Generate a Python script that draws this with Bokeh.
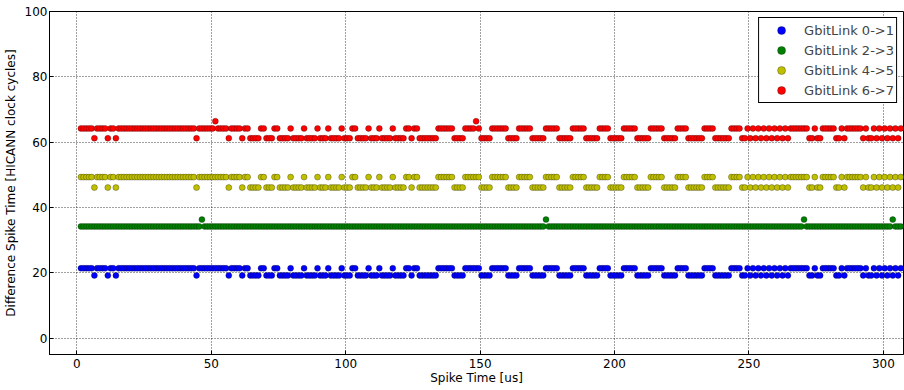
from bokeh.plotting import figure
from bokeh.models import Legend, LegendItem, ColumnDataSource
from bokeh.embed import file_html
from bokeh.resources import INLINE

# ---- data ----
# spike times [us] at which links 0->1, 4->5, 6->7 show the "upper" delay
UP_X = [1.5, 2.5, 3.5, 4.5, 5.5, 7.5, 8.5, 9.5, 10.5, 12.5, 13.5,
        15.5, 16.5, 17.5, 18.5, 19.5, 20.5, 21.5, 22.5, 23.5, 24.5, 25.5, 26.5,
        27.5, 28.5, 29.5, 30.5, 31.5, 32.5, 33.5, 34.5, 35.5, 36.5, 37.5, 38.5,
        39.5, 40.5, 41.5, 42.5, 43.5,
        45.5, 46.5, 47.5, 48.5, 49.5, 50.5, 51.5, 52.5, 53.5, 54.5, 55.5,
        57.5, 58.5, 59.5, 60.5, 62.5, 63.5, 68.5, 69.5, 73.5, 74.5, 79.5,
        84.5, 89.5, 93.5, 98.5, 102.5, 103.5, 108.5, 112.5, 117.5,
        122.5, 123.5, 125.5, 126.5,
        134.5, 135.5, 136.5, 137.5, 138.5, 139.5,
        144.5, 145.5, 146.5, 147.5, 148.5, 149.5,
        154.5, 155.5, 156.5, 157.5, 158.5, 159.5,
        164.5, 165.5, 166.5, 167.5, 168.5,
        174.5, 175.5, 176.5, 177.5, 178.5,
        184.5, 185.5, 186.5, 187.5, 188.5,
        194.5, 195.5, 196.5, 197.5,
        203.5, 204.5, 205.5, 206.5, 207.5,
        213.5, 214.5, 215.5, 216.5, 217.5,
        223.5, 224.5, 225.5, 226.5,
        233.5, 234.5, 235.5, 236.5,
        243.5, 244.5, 245.5, 246.5,
        249.5, 251.5, 253.5, 255.5, 257.5, 259.5, 261.5, 263.5, 265.5,
        266.5, 267.5, 268.5, 269.5, 270.5, 271.5, 274.5,
        277.5, 278.5, 279.5, 280.5, 281.5, 284.5,
        286.5, 287.5, 288.5, 289.5, 290.5, 291.5, 293.5, 296.5,
        298.5, 300.5, 302.5, 304.5, 306.5]
# spike times [us] with the "lower" delay
LO_X = [6.5, 11.5, 14.5, 44.5, 56.5, 61.5,
        64.5, 65.5, 66.5, 67.5, 70.5, 71.5, 72.5, 75.5, 76.5, 77.5, 78.5,
        80.5, 81.5, 82.5, 83.5, 85.5, 86.5, 87.5, 88.5, 90.5, 91.5, 92.5,
        94.5, 95.5, 96.5, 97.5, 99.5, 100.5, 101.5, 104.5, 105.5, 106.5, 107.5,
        109.5, 110.5, 111.5, 113.5, 114.5, 115.5, 116.5, 118.5, 119.5, 120.5, 121.5,
        124.5, 127.5, 128.5, 129.5, 130.5, 131.5, 132.5, 133.5,
        140.5, 141.5, 142.5, 143.5, 150.5, 151.5, 152.5, 153.5,
        160.5, 161.5, 162.5, 163.5, 169.5, 170.5, 171.5, 172.5, 173.5,
        179.5, 180.5, 181.5, 182.5, 183.5, 189.5, 190.5, 191.5, 192.5, 193.5,
        198.5, 199.5, 200.5, 201.5, 202.5, 208.5, 209.5, 210.5, 211.5, 212.5,
        218.5, 219.5, 220.5, 221.5, 222.5, 227.5, 228.5, 229.5, 230.5, 231.5, 232.5,
        237.5, 238.5, 239.5, 240.5, 241.5, 242.5, 247.5, 248.5,
        250.5, 252.5, 254.5, 256.5, 258.5, 260.5, 262.5, 264.5,
        272.5, 273.5, 275.5, 276.5, 282.5, 283.5, 285.5,
        292.5, 294.5, 295.5, 297.5, 299.5, 301.5, 303.5, 305.5]

# delay levels [HICANN clock cycles]
BLUE_LEVELS = [21.4, 19.2]     # GbitLink 0->1 (upper, lower)
GREEN_LEVELS = [34.2, 36.3]    # GbitLink 2->3 (normal, outlier)
YELLOW_LEVELS = [49.3, 46.1]   # GbitLink 4->5
RED_LEVELS = [64.2, 61.2, 66.4]  # GbitLink 6->7 (upper, lower, outlier)

GREEN_OUT_X = [46.5, 174.5, 270.5, 303.5]
RED_OUT_X = [51.5, 148.5]

LABELS = ["GbitLink 0->1", "GbitLink 2->3", "GbitLink 4->5", "GbitLink 6->7"]
COLORS = ["#0000ff", "#008000", "#bfbf00", "#ff0000"]

X_TICKS = [0, 50, 100, 150, 200, 250, 300]
Y_TICKS = [0, 20, 40, 60, 80, 100]

# ---- build per-series point sets ----
all_t = sorted(UP_X + LO_X)

blue_x = UP_X + LO_X
blue_y = [BLUE_LEVELS[0]] * len(UP_X) + [BLUE_LEVELS[1]] * len(LO_X)

green_main = [t for t in all_t if t not in GREEN_OUT_X]
green_x = green_main + GREEN_OUT_X
green_y = [GREEN_LEVELS[0]] * len(green_main) + [GREEN_LEVELS[1]] * len(GREEN_OUT_X)

yellow_x = UP_X + LO_X
yellow_y = [YELLOW_LEVELS[0]] * len(UP_X) + [YELLOW_LEVELS[1]] * len(LO_X)

red_up = [t for t in UP_X if t not in RED_OUT_X]
red_x = red_up + LO_X + RED_OUT_X
red_y = ([RED_LEVELS[0]] * len(red_up) + [RED_LEVELS[1]] * len(LO_X)
         + [RED_LEVELS[2]] * len(RED_OUT_X))

series = [(blue_x, blue_y), (green_x, green_y), (yellow_x, yellow_y), (red_x, red_y)]

FONT = "DejaVu Sans"

p = figure(width=904, height=390, x_range=(-10.2, 307.5), y_range=(-5, 100),
           output_backend="svg", toolbar_location=None,
           min_border_left=49, min_border_right=1, min_border_top=11,
           min_border_bottom=36)

p.background_fill_color = "white"
p.border_fill_color = "white"
p.outline_line_color = "black"
p.outline_line_width = 1
p.outline_line_alpha = 1

for ax in (p.xaxis, p.yaxis):
    ax.major_label_text_font = FONT
    ax.major_label_text_font_size = "12px"
    ax.major_label_text_color = "black"
    ax.axis_label_text_font = FONT
    ax.axis_label_text_font_size = "12px"
    ax.axis_label_text_font_style = "normal"
    ax.axis_label_text_color = "black"
    ax.major_tick_in = 4
    ax.major_tick_out = 0
    ax.minor_tick_line_color = None
    ax.axis_line_color = "black"
    ax.major_tick_line_color = "black"

p.xaxis.ticker = X_TICKS
p.yaxis.ticker = Y_TICKS
p.xaxis.axis_label = "Spike Time [us]"
p.yaxis.axis_label = "Difference Spike Time [HICANN clock cycles]"
p.xaxis.major_label_standoff = 4
p.xaxis.axis_label_standoff = 0
p.yaxis.major_label_standoff = 2
p.yaxis.axis_label_standoff = 4

for g in (p.xgrid, p.ygrid):
    g.grid_line_color = "black"
    g.grid_line_alpha = 0.75
    g.grid_line_dash = "1 2"
    g.grid_line_width = 1

renderers = []
for (xs, ys), col in zip(series, COLORS):
    src = ColumnDataSource(dict(x=xs, y=ys))
    r = p.scatter("x", "y", source=src, size=6, fill_color=col,
                  line_color="black", line_width=0.5, line_alpha=0.55)
    renderers.append(r)

legend = Legend(items=[LegendItem(label=l, renderers=[r]) for l, r in zip(LABELS, renderers)],
                location="top_right", border_line_color="black", border_line_width=1,
                border_line_alpha=1, background_fill_color="white", background_fill_alpha=1,
                label_text_font=FONT, label_text_font_size="13px",
                glyph_width=40, glyph_height=20, label_height=20, spacing=0,
                padding=2, margin=6, label_standoff=3)
p.add_layout(legend)

open("out.html", "w").write(file_html(p, INLINE))
